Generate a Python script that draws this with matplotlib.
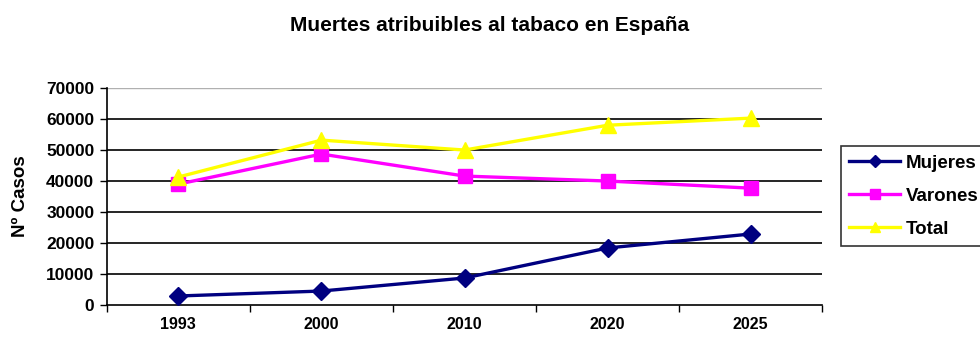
import matplotlib
matplotlib.use('Agg')
import matplotlib.pyplot as plt

years = ['1993', '2000', '2010', '2020', '2025']
mujeres = [2900, 4500, 8700, 18400, 22900]
varones = [39000, 48700, 41600, 40000, 37700]
total = [41300, 53200, 50000, 58000, 60300]

plt.rcParams['font.family'] = ['Liberation Sans', 'DejaVu Sans']
plt.rcParams['font.weight'] = 'bold'

fig = plt.figure(figsize=(9.8, 3.4), dpi=100)
ax = fig.add_axes([0.109, 0.103, 0.730, 0.638])

x = list(range(len(years)))
ax.plot(x, mujeres, color='#000080', lw=2.4, marker='D', ms=9, label='Mujeres', zorder=3)
ax.plot(x, varones, color='#FF00FF', lw=2.4, marker='s', ms=10, label='Varones', zorder=3)
ax.plot(x, total, color='#FFFF00', lw=2.4, marker='^', ms=11, label='Total', zorder=3)

ax.set_xlim(-0.5, len(years) - 0.5)
ax.set_ylim(0, 70000)
ax.set_yticks(range(0, 70001, 10000))
ax.set_xticks(x)
ax.set_xticklabels(years)
ax.set_xticks([i - 0.5 for i in range(len(years) + 1)], minor=True)
ax.tick_params(axis='x', which='major', length=0, pad=9, labelsize=11.5)
ax.tick_params(axis='x', which='minor', length=5, width=1, direction='out')
ax.tick_params(axis='y', length=5, width=1, direction='out', labelsize=12.5, pad=4)
for lab in ax.get_xticklabels() + ax.get_yticklabels():
    lab.set_fontweight('bold')

for v in range(10000, 70000, 10000):
    ax.axhline(v, color='black', lw=1.2, zorder=1)
ax.axhline(70000, color='#b0b0b0', lw=1.0, zorder=1)

for s in ['top', 'right']:
    ax.spines[s].set_visible(False)
ax.spines['left'].set_linewidth(1.2)
ax.spines['bottom'].set_linewidth(1.2)

ax.set_ylabel('Nº Casos', fontsize=13.5, fontweight='bold', labelpad=12)
fig.text(0.50, 0.925, 'Muertes atribuibles al tabaco en España',
         ha='center', va='center', fontsize=15, fontweight='bold')

leg = fig.legend(loc='upper left', bbox_to_anchor=(841 / 980, 1 - 146 / 340),
                 frameon=True, fancybox=False, edgecolor='black',
                 prop={'size': 13.5, 'weight': 'bold'}, handlelength=2.7,
                 borderpad=0.45, labelspacing=0.85, handletextpad=0.3,
                 markerscale=0.65, borderaxespad=0)
leg.get_frame().set_linewidth(1.2)

fig.savefig('out.png', dpi=100)
